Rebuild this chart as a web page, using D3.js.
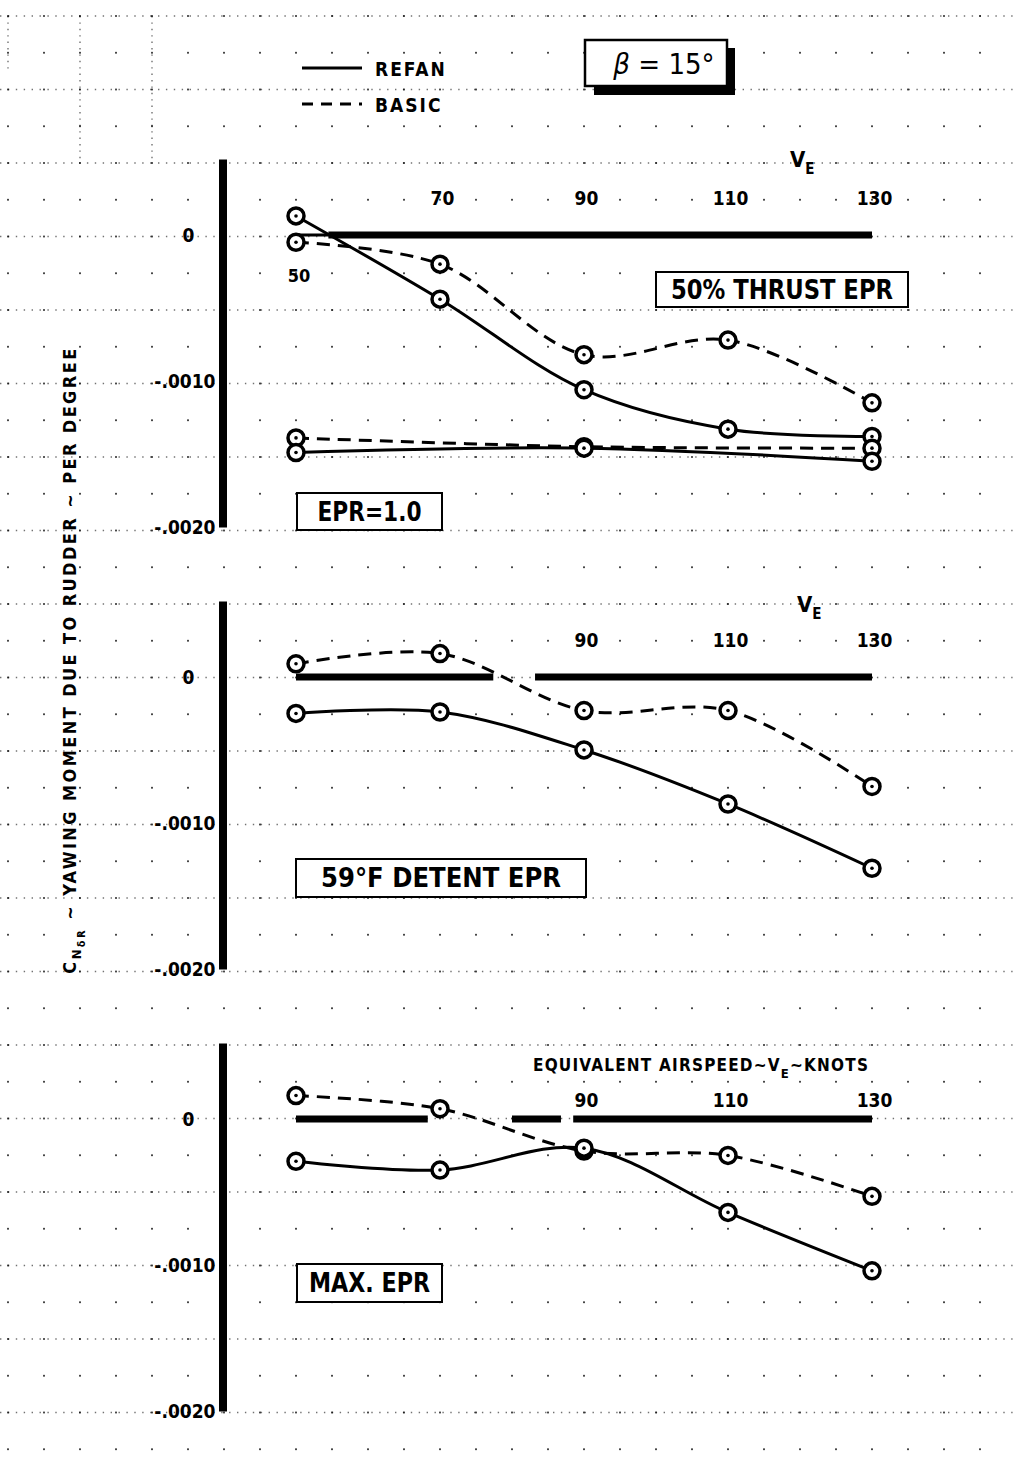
<!DOCTYPE html>
<html>
<head>
<meta charset="utf-8">
<script src="https://cdn.jsdelivr.net/npm/d3@7"></script>
<style>
  body { margin: 0; background: #fff; }
  svg text { font-family: "DejaVu Sans Condensed", "DejaVu Sans", sans-serif; font-weight: bold; fill: #000; }
</style>
</head>
<body>
<div id="chart"></div>
<script>
// equivalent airspeed, knots
const speeds = [50, 70, 90, 110, 130];
const idleSpeeds = [50, 90, 130];

// CN-delta-R per degree
const thrust50Refan = [0.00013, -0.00044, -0.00106, -0.00133, -0.00138];
const thrust50Basic = [-0.00005, -0.00020, -0.00082, -0.00072, -0.00115];
const idleRefan = [-0.00149, -0.00146, -0.00155];
const idleBasic = [-0.00139, -0.00145, -0.00146];
const detentRefan = [-0.00025, -0.00024, -0.00050, -0.00087, -0.00131];
const detentBasic = [0.00009, 0.00016, -0.00023, -0.00023, -0.00075];
const maxRefan = [-0.00029, -0.00035, -0.00020, -0.00064, -0.00104];
const maxBasic = [0.00016, 0.00007, -0.00022, -0.00025, -0.00053];

const yTicks = [0, -0.001, -0.002];
const yTickLabels = ["0", "-.0010", "-.0020"];

// heavy zero line pieces, knots (the drawn line has gaps)
const zeroSegs1 = [[54.5, 130]];
const zeroSegs2 = [[50, 77.4], [83.2, 130]];
const zeroSegs3 = [[50, 68.3], [80, 86.8], [88.5, 130]];

const width = 1013, height = 1484;
const svg = d3.select("#chart").append("svg")
    .attr("width", width)
    .attr("height", height);

const x = d3.scaleLinear().domain([50, 130]).range([296, 872]);

// ---- background graph paper (dotted) ----
const gridCols = d3.range(10, 150, 5);
const gridRows = d3.range(0, 41);
const gy = d3.scaleLinear().domain([0, 40]).range([16, 16 + 40 * 36.75]);

const grid = svg.append("g").attr("fill", "#000");
grid.selectAll("line.row")
    .data(gridRows.filter(j => j % 2 == 0))
    .join("line")
    .attr("x1", 0).attr("x2", width)
    .attr("y1", d => gy(d)).attr("y2", d => gy(d))
    .attr("stroke", "#000")
    .attr("stroke-width", 1.3)
    .attr("stroke-dasharray", "1.4 6.5")
    .attr("opacity", 0.55);
gridRows.forEach(j => {
    grid.append("g").selectAll("rect")
        .data(gridCols)
        .join("rect")
        .attr("x", d => x(d) - 0.9)
        .attr("y", gy(j) - 0.9)
        .attr("width", 1.8).attr("height", 1.8)
        .attr("opacity", 0.8);
});
[[10, 0, 1.5], [20, 0, 4], [30, 0, 4]].forEach(v => {
    grid.append("line")
        .attr("x1", x(v[0])).attr("x2", x(v[0]))
        .attr("y1", gy(v[1])).attr("y2", gy(v[2]))
        .attr("stroke", "#000").attr("stroke-width", 1.3)
        .attr("stroke-dasharray", "1.4 5").attr("opacity", 0.6);
});

// ---- legend + beta box ----
const legend = svg.append("g");
legend.append("line").attr("x1", 302).attr("x2", 362).attr("y1", 68).attr("y2", 68)
    .attr("stroke", "#000").attr("stroke-width", 3);
legend.append("line").attr("x1", 302).attr("x2", 362).attr("y1", 104).attr("y2", 104)
    .attr("stroke", "#000").attr("stroke-width", 3).attr("stroke-dasharray", "11 8");
legend.append("text").attr("x", 375).attr("y", 76).attr("font-size", 19)
    .attr("letter-spacing", 2).text("REFAN");
legend.append("text").attr("x", 375).attr("y", 112).attr("font-size", 19)
    .attr("letter-spacing", 2).text("BASIC");

const beta = svg.append("g");
beta.append("rect").attr("x", 594).attr("y", 85).attr("width", 141).attr("height", 10);
beta.append("rect").attr("x", 727).attr("y", 48).attr("width", 8).attr("height", 47);
beta.append("rect").attr("x", 585).attr("y", 40).attr("width", 142).attr("height", 46)
    .attr("fill", "#fff").attr("stroke", "#000").attr("stroke-width", 2.5);
const bt = beta.append("text").attr("x", 664).attr("y", 74).attr("text-anchor", "middle")
    .attr("font-size", 29).style("font-weight", "normal");
bt.append("tspan").style("font-style", "italic").text("β");
bt.append("tspan").text(" = 15°");

// ---- y axis title ----
const title = svg.append("text")
    .attr("transform", "translate(76,660) rotate(-90)")
    .attr("text-anchor", "middle")
    .attr("font-size", 18)
    .attr("letter-spacing", 2.4);
title.append("tspan").text("C");
title.append("tspan").attr("dy", 5).attr("font-size", 13).text("N");
title.append("tspan").attr("dy", 4).attr("font-size", 11).text("δR");
title.append("tspan").attr("dy", -9).text("  ~  YAWING MOMENT DUE TO RUDDER ~ PER DEGREE");

// ---- the three panels ----
const panels = [
    {
        zero: 235, zeroSegs: zeroSegs1, ticks: [70, 90, 110, 130], tickDy: -30,
        series: [
            {s: speeds, v: thrust50Basic, dash: true},
            {s: speeds, v: thrust50Refan, dash: false},
            {s: idleSpeeds, v: idleBasic, dash: true},
            {s: idleSpeeds, v: idleRefan, dash: false}
        ],
        ve: [790, 167],
        boxes: [
            {text: "50%  THRUST  EPR", x: 656, y: 272, w: 252, h: 35, tl: 222},
            {text: "EPR=1.0", x: 297, y: 493, w: 145, h: 37, tl: 104}
        ]
    },
    {
        zero: 677, zeroSegs: zeroSegs2, ticks: [90, 110, 130], tickDy: -30,
        series: [
            {s: speeds, v: detentBasic, dash: true},
            {s: speeds, v: detentRefan, dash: false}
        ],
        ve: [797, 612],
        boxes: [
            {text: "59°F   DETENT  EPR", x: 296, y: 859, w: 290, h: 38, tl: 240}
        ]
    },
    {
        zero: 1119, zeroSegs: zeroSegs3, ticks: [90, 110, 130], tickDy: -12,
        series: [
            {s: speeds, v: maxBasic, dash: true},
            {s: speeds, v: maxRefan, dash: false}
        ],
        ve: null,
        boxes: [
            {text: "MAX.  EPR", x: 297, y: 1264, w: 145, h: 38, tl: 121}
        ]
    }
];

const line = d3.line().curve(d3.curveCatmullRom.alpha(0.5));

panels.forEach((p, pi) => {
    const y = d3.scaleLinear().domain([-0.002, 0.00052]).range([p.zero + 292, p.zero - 76]);
    const g = svg.append("g");

    // thick y axis bar + labels
    g.append("g")
        .attr("transform", "translate(222.5,0)")
        .call(d3.axisLeft(y).tickValues(yTicks).tickFormat((d, i) => yTickLabels[i])
            .tickSize(0).tickSizeOuter(0).tickPadding(7))
        .attr("font-family", null).attr("font-size", null)
        .call(a => a.select(".domain").attr("stroke", "#000").attr("stroke-width", 8))
        .call(a => a.selectAll(".tick text").attr("font-size", 19).attr("dy", "0.36em"))
        .call(a => a.selectAll(".tick text").filter(d => d == 0)
            .attr("x", -34).attr("text-anchor", "middle"));

    // heavy zero reference line
    g.selectAll("line.zero")
        .data(p.zeroSegs)
        .join("line")
        .attr("x1", d => x(d[0])).attr("x2", d => x(d[1]))
        .attr("y1", y(0)).attr("y2", y(0))
        .attr("stroke", "#000").attr("stroke-width", 7);
    if (pi == 0) {
        g.append("line").attr("x1", x(50)).attr("x2", x(55)).attr("y1", y(0)).attr("y2", y(0))
            .attr("stroke", "#000").attr("stroke-width", 3);
    }

    // speed labels
    g.append("g")
        .attr("transform", `translate(2,${p.zero + p.tickDy})`)
        .call(d3.axisTop(x).tickValues(p.ticks).tickFormat(d3.format("d")).tickSize(0).tickPadding(0))
        .attr("font-family", null).attr("font-size", null)
        .call(a => a.select(".domain").remove())
        .call(a => a.selectAll(".tick text").attr("font-size", 19).attr("dy", 0));
    if (pi == 0) {
        g.append("text").attr("x", x(50) + 3).attr("y", y(0) + 47)
            .attr("text-anchor", "middle").attr("font-size", 18).text("50");
    }
    if (p.ve) {
        const t = g.append("text").attr("x", p.ve[0]).attr("y", p.ve[1]).attr("font-size", 22);
        t.append("tspan").text("V");
        t.append("tspan").attr("dy", 7).attr("font-size", 15).text("E");
    }
    if (pi == 2) {
        const t = g.append("text").attr("x", 533).attr("y", 1071).attr("font-size", 17)
            .attr("letter-spacing", 1.2);
        t.append("tspan").text("EQUIVALENT AIRSPEED~V");
        t.append("tspan").attr("dy", 7).attr("font-size", 13).text("E");
        t.append("tspan").attr("dy", -7).text("~KNOTS");
    }

    // curves
    p.series.forEach(s => {
        const pts = s.s.map((k, i) => [x(k), y(s.v[i])]);
        g.append("path")
            .attr("d", line(pts))
            .attr("fill", "none")
            .attr("stroke", "#000")
            .attr("stroke-width", 3)
            .attr("stroke-dasharray", s.dash ? "13 8" : null);
    });
    // markers
    p.series.forEach(s => {
        const pts = s.s.map((k, i) => [x(k), y(s.v[i])]);
        const m = g.append("g").selectAll("g").data(pts).join("g")
            .attr("transform", d => `translate(${d[0]},${d[1]})`);
        m.append("circle").attr("r", 8).attr("fill", "#fff")
            .attr("stroke", "#000").attr("stroke-width", 3.5);
        m.append("circle").attr("r", 1.8).attr("fill", "#000");
    });

    // condition boxes
    p.boxes.forEach(b => {
        g.append("rect").attr("x", b.x).attr("y", b.y).attr("width", b.w).attr("height", b.h)
            .attr("fill", "#fff").attr("stroke", "#000").attr("stroke-width", 2);
        g.append("text").attr("x", b.x + b.w / 2).attr("y", b.y + b.h / 2)
            .attr("dy", "0.36em").attr("text-anchor", "middle")
            .attr("font-size", 26)
            .attr("textLength", b.tl).attr("lengthAdjust", "spacingAndGlyphs")
            .text(b.text);
    });
});
</script>
</body>
</html>
